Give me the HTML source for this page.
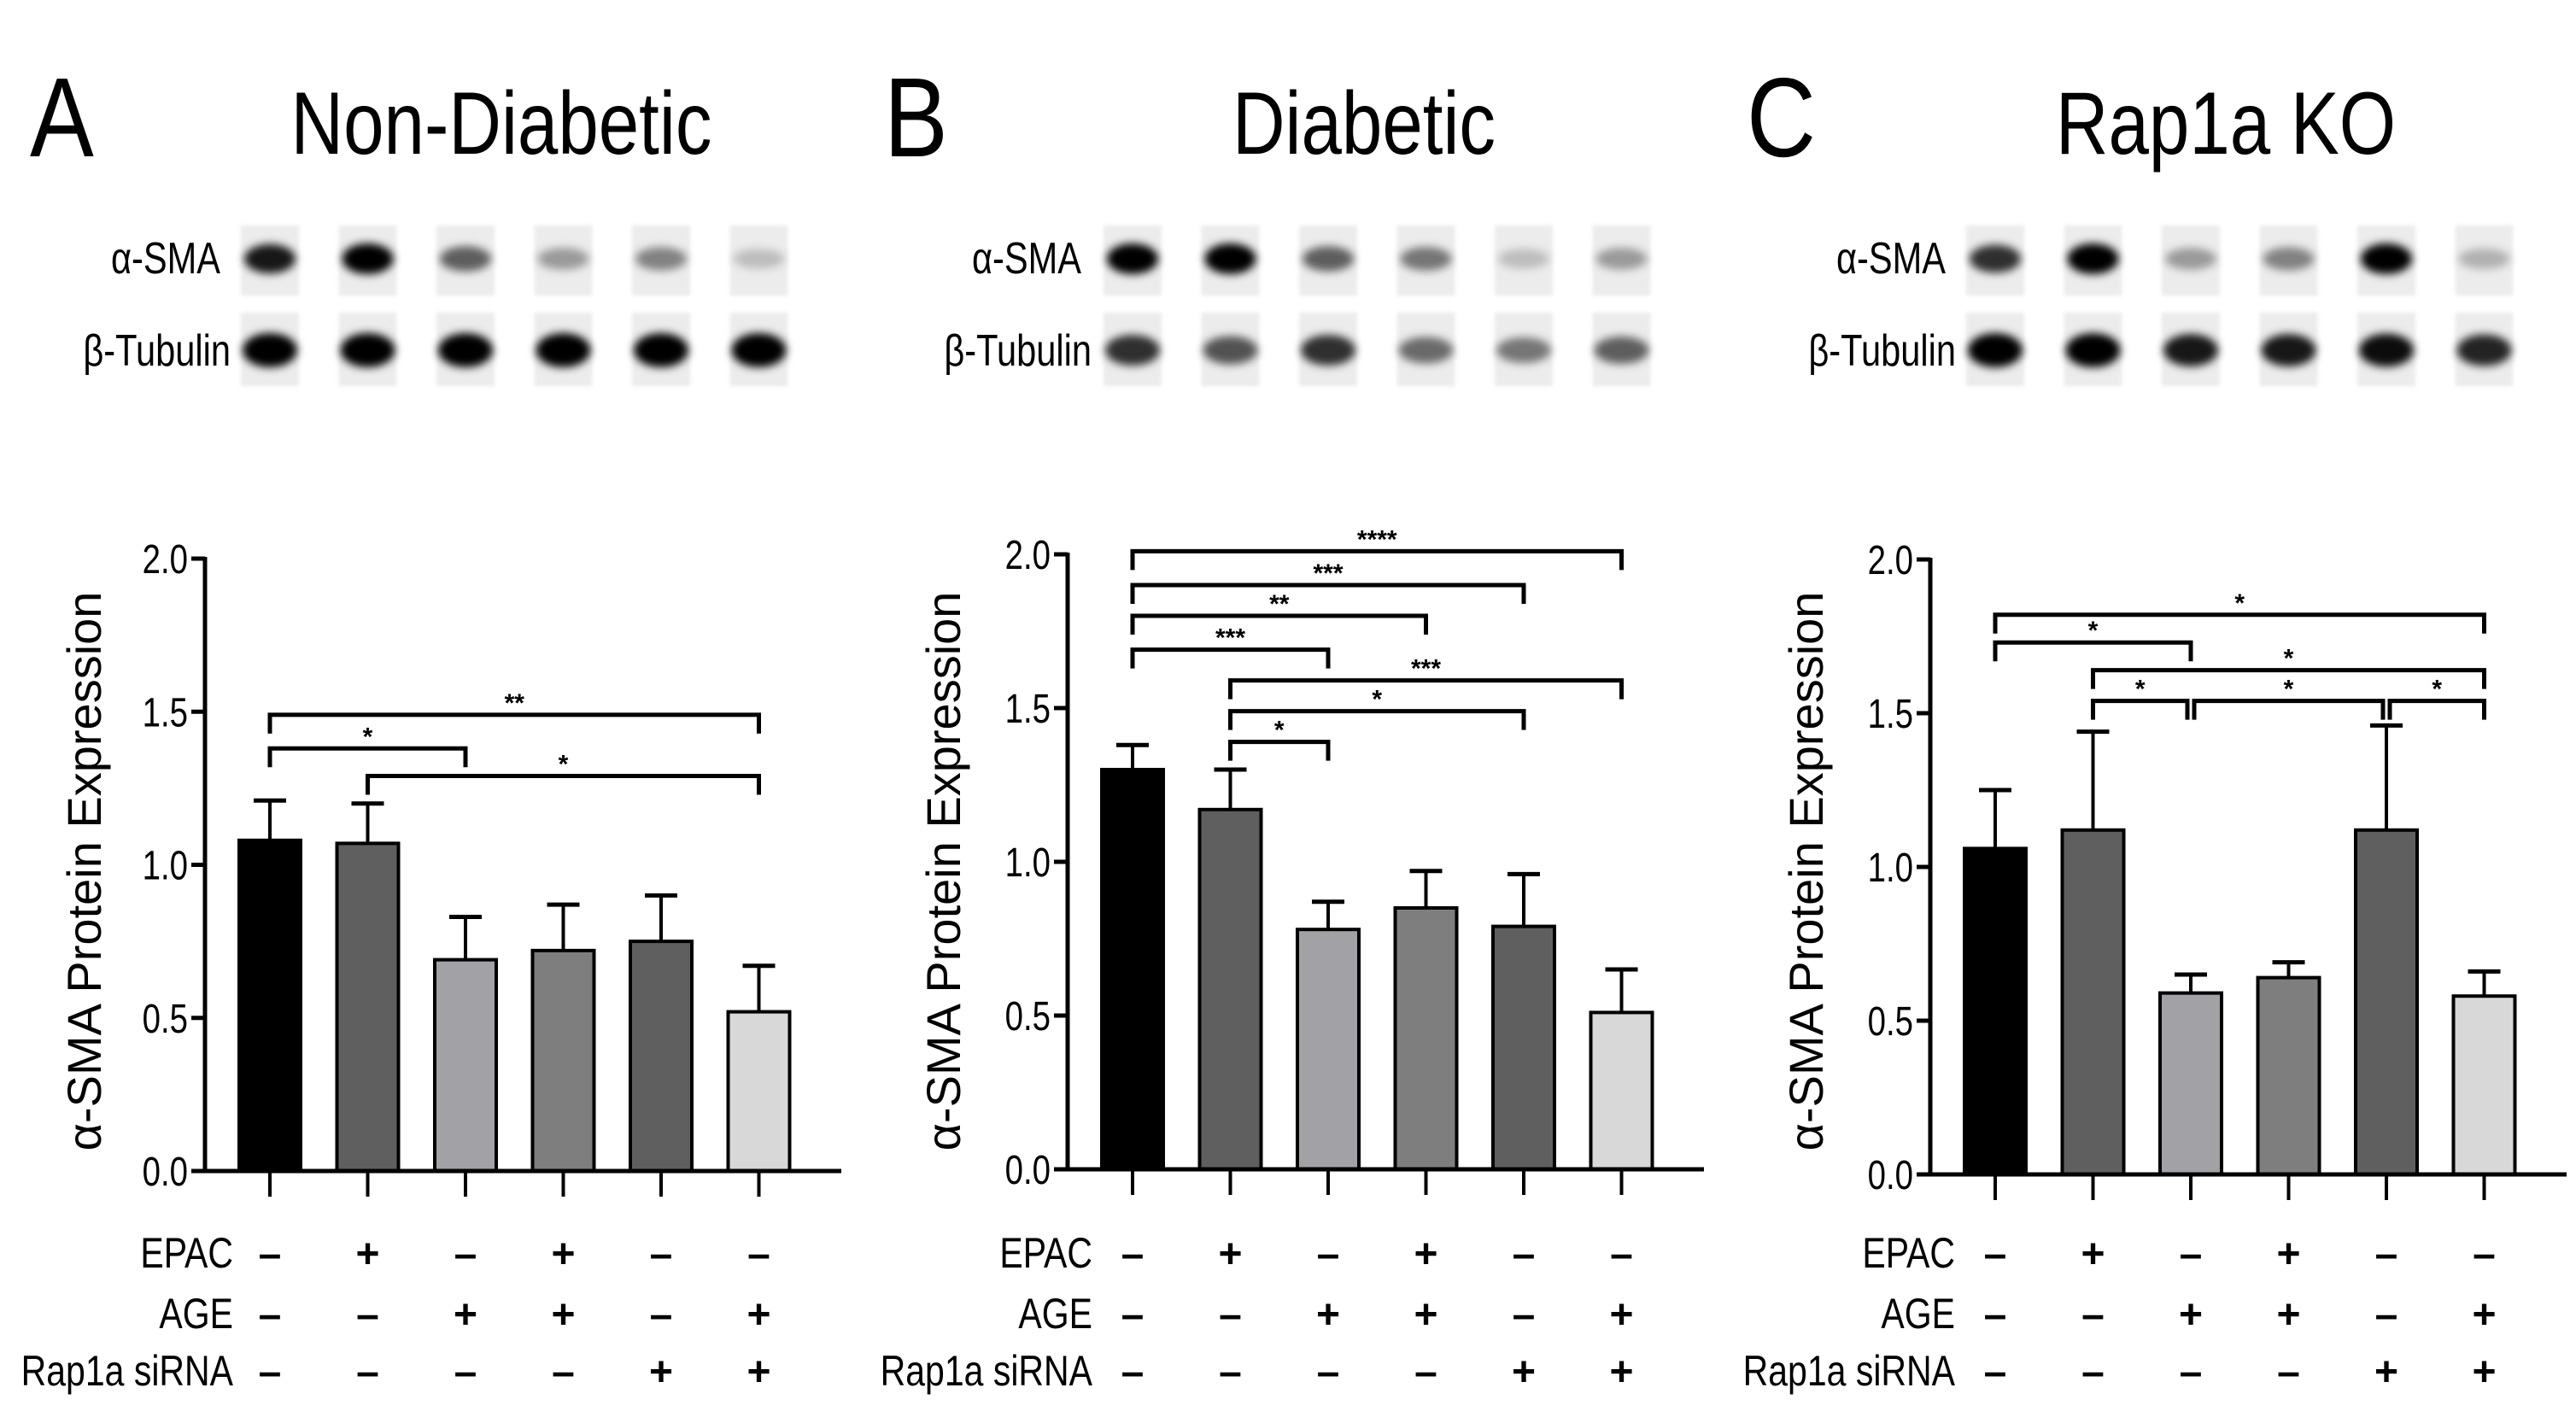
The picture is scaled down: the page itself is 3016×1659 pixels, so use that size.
<!DOCTYPE html>
<html><head><meta charset="utf-8">
<style>
html,body{margin:0;padding:0;background:#fff;}
svg{display:block;}
text{font-family:"Liberation Sans",sans-serif;fill:#000;}
</style></head>
<body>
<svg id="fig" width="3016" height="1659" viewBox="0 0 3016 1659" xmlns="http://www.w3.org/2000/svg">
<defs>
<filter id="blur" x="-50%" y="-50%" width="200%" height="200%"><feGaussianBlur stdDeviation="5"/></filter>
<filter id="blur2" x="-50%" y="-50%" width="200%" height="200%"><feGaussianBlur stdDeviation="2"/></filter>
</defs>
</svg>
<script>
// ---- data ----
const panelLetters = ["A","B","C"];
const panelTitles = ["Non-Diabetic","Diabetic","Rap1a KO"];
const yTicks = [0.0,0.5,1.0,1.5,2.0];
const yTickLabels = ["0.0","0.5","1.0","1.5","2.0"];
const meansA = [1.08,1.07,0.69,0.72,0.75,0.52];
const errsA  = [0.13,0.13,0.14,0.15,0.15,0.15];
const meansB = [1.30,1.17,0.78,0.85,0.79,0.51];
const errsB  = [0.08,0.13,0.09,0.12,0.17,0.14];
const meansC = [1.06,1.12,0.59,0.64,1.12,0.58];
const errsC  = [0.19,0.32,0.06,0.05,0.34,0.08];
const barColors = ["#000000","#5f5f5f","#a2a2a6","#7e7e7e","#5f5f5f","#d8d8d8"];
const sigA = [[0,5,1.49,"**"],[0,2,1.38,"*"],[1,5,1.29,"*"]];
const sigB = [[0,5,2.01,"****"],[0,4,1.90,"***"],[0,3,1.80,"**"],[0,2,1.69,"***"],[1,5,1.59,"***"],[1,4,1.49,"*"],[1,2,1.39,"*"]];
const sigC = [[0,5,1.82,"*"],[0,2,1.73,"*"],[1,5,1.64,"*"],[1,2,1.54,"*"],[2,4,1.54,"*"],[4,5,1.54,"*"]];
const condNames = ["EPAC","AGE","Rap1a  siRNA"];
const condEPAC = ["-","+","-","+","-","-"];
const condAGE  = ["-","-","+","+","-","+"];
const condRap  = ["-","-","-","-","+","+"];
const smaA=[0.9,1.0,0.6,0.35,0.45,0.2], tubA=[1,1,1,1,1,1];
const smaB=[1.0,1.0,0.6,0.5,0.2,0.35], tubB=[0.8,0.65,0.8,0.55,0.5,0.6];
const smaC=[0.8,1.0,0.35,0.45,1.0,0.25], tubC=[1,1,0.9,0.9,0.95,0.85];

const panels = [
 {axisX:240, y0:1371, unit:358.5, means:meansA, errs:errsA, sig:sigA, sma:smaA, tub:tubA, letterX:35, titleX:587, ylabX:118, rowLabX:273, blotLabX:258},
 {axisX:1250, y0:1369, unit:360, means:meansB, errs:errsB, sig:sigB, sma:smaB, tub:tubB, letterX:1035, titleX:1597, ylabX:1124, rowLabX:1279, blotLabX:1266},
 {axisX:2260, y0:1375, unit:360, means:meansC, errs:errsC, sig:sigC, sma:smaC, tub:tubC, letterX:2045, titleX:2606, ylabX:2134, rowLabX:2289, blotLabX:2278},
];
const NS="http://www.w3.org/2000/svg";
const svg=document.getElementById("fig");
function mk(tag,attrs,parent,txt){const e=document.createElementNS(NS,tag);for(const k in attrs)e.setAttribute(k,attrs[k]);if(txt!==undefined)e.textContent=txt;(parent||svg).appendChild(e);return e;}

panels.forEach((p,pi)=>{
 const g=mk("g",{});
 
 
 const xc=i=>p.axisX+76+i*114.5;
 const ys=v=>p.y0-v*p.unit;
 let t=mk("text",{x:0,y:0,"font-size":132,transform:`translate(${p.letterX},183) scale(0.85,1)`},g,panelLetters[pi]);
 
 
 t=mk("text",{x:0,y:0,"font-size":104,"text-anchor":"middle",transform:`translate(${p.titleX},180) scale(0.82,1)`},g,panelTitles[pi]);
 
 
 t=mk("text",{x:0,y:0,"font-size":52,"text-anchor":"end",transform:`translate(${p.blotLabX},320) scale(0.8,1)`},g,"α-SMA");
 
 
 t=mk("text",{x:0,y:0,"font-size":52,"text-anchor":"end",transform:`translate(${p.blotLabX+12},428) scale(0.8,1)`},g,"β-Tubulin");
 
 
 for(let i=0;i<6;i++){
  const bx=xc(i)-34;
  let r=mk("rect",{x:bx,y:264,width:68,height:82,fill:"#ececec",filter:"url(#blur2)"},g);
  
  
  const a=p.sma[i];
  r=mk("ellipse",{cx:xc(i),cy:303,rx:30,ry:10+8*a,fill:`rgba(0,0,0,${a})`,filter:"url(#blur)"},g);
  
  
  r=mk("rect",{x:bx,y:366,width:68,height:86,fill:"#ececec",filter:"url(#blur2)"},g);
  
  
  const b=p.tub[i];
  r=mk("ellipse",{cx:xc(i),cy:410,rx:32,ry:10+10*b,fill:`rgba(0,0,0,${b})`,filter:"url(#blur)"},g);
  
  
 }
 t=mk("text",{x:0,y:0,"font-size":56,"text-anchor":"middle",transform:`translate(${p.ylabX},1020) rotate(-90)`},g,"α-SMA Protein Expression");
 
 
 p.means.forEach((m,i)=>{
  const top=ys(m+p.errs[i]);
  let l=mk("line",{x1:xc(i),x2:xc(i),y1:ys(m),y2:top,stroke:"#000","stroke-width":4},g);
  
  
  l=mk("line",{x1:xc(i)-19,x2:xc(i)+19,y1:top,y2:top,stroke:"#000","stroke-width":5},g);
  
  
  const r=mk("rect",{x:xc(i)-36,y:ys(m),width:72,height:m*p.unit,fill:barColors[i],stroke:"#000","stroke-width":4},g);
  
  
 });
 let ax=mk("line",{x1:p.axisX,x2:p.axisX,y1:ys(2)-2,y2:p.y0+2,stroke:"#000","stroke-width":5},g);
 
 
 ax=mk("line",{x1:p.axisX-16,x2:p.axisX+745,y1:p.y0,y2:p.y0,stroke:"#000","stroke-width":5},g);
 
 
 yTicks.forEach((v,k)=>{
  let l=mk("line",{x1:p.axisX-16,x2:p.axisX,y1:ys(v),y2:ys(v),stroke:"#000","stroke-width":5},g);
  
  
  const tt=mk("text",{x:0,y:0,"font-size":48,"text-anchor":"end",transform:`translate(${p.axisX-20},${ys(v)+17}) scale(0.8,1)`},g,yTickLabels[k]);
  
  
 });
 for(let i=0;i<6;i++){
  const l=mk("line",{x1:xc(i),x2:xc(i),y1:p.y0,y2:p.y0+30,stroke:"#000","stroke-width":4},g);
  
  
 }
 p.sig.forEach(s=>{
  const [a,b,lv,lab]=s;const y=ys(lv);const x1=xc(a)+(a>0&&p.sig.some(q=>q[1]===a&&q[2]===lv)?4:0), x2=xc(b)-(p.sig.some(q=>q[0]===b&&q[2]===lv)?4:0);
  const pl=mk("polyline",{points:`${x1},${y+22} ${x1},${y} ${x2},${y} ${x2},${y+22}`,fill:"none",stroke:"#000","stroke-width":5},g);
  
  
  const st=mk("text",{x:(x1+x2)/2,y:y-4,"font-size":30,"text-anchor":"middle","font-weight":"bold"},g,lab);
  
  
 });
 const rows=[condEPAC,condAGE,condRap], rowY=[1484,1555,1622];
 rows.forEach((row,r)=>{
  const lt=mk("text",{x:0,y:0,"font-size":50,"text-anchor":"end","xml:space":"preserve",transform:`translate(${p.rowLabX},${rowY[r]}) scale(0.82,1)`},g,condNames[r]);
  
  
  row.forEach((v,i)=>{
   const st=mk("text",{x:xc(i),y:rowY[r],"font-size":48,"font-weight":"bold","text-anchor":"middle"},g,v==="+"?"+":"–");
   
   
  });
 });
});
</script>
</body></html>
